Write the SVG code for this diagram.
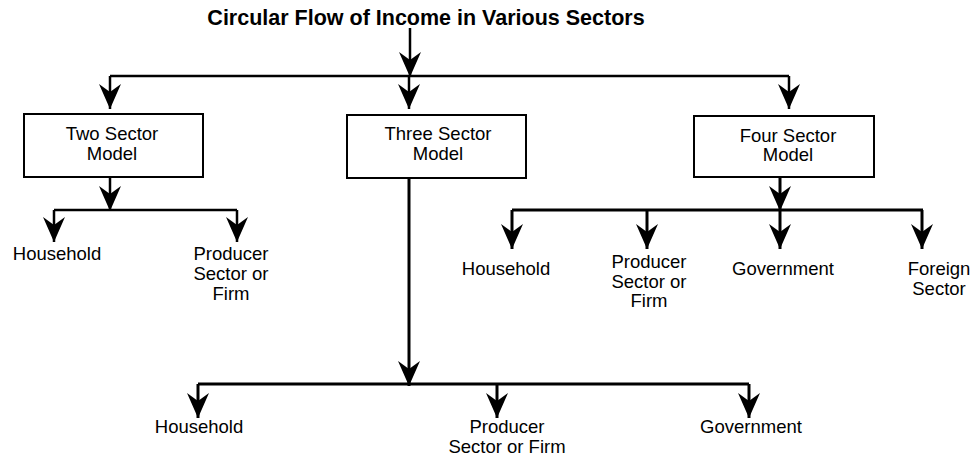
<svg xmlns="http://www.w3.org/2000/svg" width="974" height="457" viewBox="0 0 974 457">
<defs>
<style>
.t{font-family:"Liberation Sans",Arial,Helvetica,sans-serif;font-size:18.5px;fill:#000;text-anchor:middle}
.title{font-family:"Liberation Sans",Arial,Helvetica,sans-serif;font-size:21.5px;font-weight:bold;fill:#000;text-anchor:middle}
.box{fill:#fff;stroke:#000;stroke-width:2}
.ln{stroke:#000;stroke-width:2.5;fill:none}
.th{stroke:#000;stroke-width:3;fill:none}
.ar{stroke:#000;stroke-width:2.5;fill:none;marker-end:url(#ah)}
.art{stroke:#000;stroke-width:3;fill:none;marker-end:url(#ah)}
</style>
<marker id="ah" viewBox="0 0 25 22" refX="25" refY="11" markerWidth="25" markerHeight="22" markerUnits="userSpaceOnUse" orient="auto">
<path d="M0,0 L25,11 L0,22 L8,11 Z" fill="#000"/>
</marker>
</defs>
<rect width="974" height="457" fill="#fff"/>
<text class="title" x="426" y="25">Circular Flow of Income in Various Sectors</text>
<g id="connectors">
<line class="ar" x1="410" y1="28" x2="410" y2="77"/>
<line class="ln" x1="110" y1="76" x2="789" y2="76"/>
<line class="ar" x1="110" y1="76" x2="110" y2="109"/>
<line class="ar" x1="409" y1="76" x2="409" y2="109"/>
<line class="ar" x1="789" y1="76" x2="789" y2="109"/>
<line class="ar" x1="110" y1="177" x2="110" y2="211"/>
<line class="ln" x1="54" y1="210" x2="237" y2="210"/>
<line class="ar" x1="54" y1="210" x2="54" y2="242"/>
<line class="ar" x1="237" y1="210" x2="237" y2="242"/>
<line class="art" x1="409" y1="178" x2="409" y2="386"/>
<line class="th" x1="198" y1="384" x2="749" y2="384"/>
<line class="art" x1="198" y1="384" x2="198" y2="418"/>
<line class="art" x1="497" y1="384" x2="497" y2="418"/>
<line class="art" x1="749" y1="384" x2="749" y2="418"/>
<line class="art" x1="780" y1="177" x2="780" y2="211"/>
<line class="th" x1="512" y1="210" x2="923" y2="210"/>
<line class="art" x1="512" y1="210" x2="512" y2="249"/>
<line class="art" x1="647" y1="210" x2="647" y2="249"/>
<line class="art" x1="780" y1="210" x2="780" y2="249"/>
<line class="art" x1="922" y1="210" x2="922" y2="249"/>
</g>
<g id="two-sector">
<rect class="box" x="24" y="114" width="179" height="63"/>
<text class="t" x="112" y="140">Two Sector</text>
<text class="t" x="112" y="160">Model</text>
</g>
<g id="three-sector">
<rect class="box" x="347" y="115" width="179" height="63"/>
<text class="t" x="438" y="140">Three Sector</text>
<text class="t" x="438" y="160">Model</text>
</g>
<g id="four-sector">
<rect class="box" x="694" y="116" width="180" height="61"/>
<text class="t" x="788" y="142">Four Sector</text>
<text class="t" x="788" y="161">Model</text>
</g>
<g id="two-household"><text class="t" x="57" y="260">Household</text></g>
<g id="two-producer">
<text class="t" x="231" y="260">Producer</text>
<text class="t" x="231" y="280">Sector or</text>
<text class="t" x="231" y="300">Firm</text>
</g>
<g id="four-household"><text class="t" x="506" y="275">Household</text></g>
<g id="four-producer">
<text class="t" x="649" y="268">Producer</text>
<text class="t" x="649" y="288">Sector or</text>
<text class="t" x="649" y="307">Firm</text>
</g>
<g id="four-government"><text class="t" x="783" y="275">Government</text></g>
<g id="four-foreign">
<text class="t" x="939" y="275">Foreign</text>
<text class="t" x="939" y="295">Sector</text>
</g>
<g id="three-household"><text class="t" x="199" y="433">Household</text></g>
<g id="three-producer">
<text class="t" x="507" y="433">Producer</text>
<text class="t" x="507" y="453">Sector or Firm</text>
</g>
<g id="three-government"><text class="t" x="751" y="433">Government</text></g>
</svg>
